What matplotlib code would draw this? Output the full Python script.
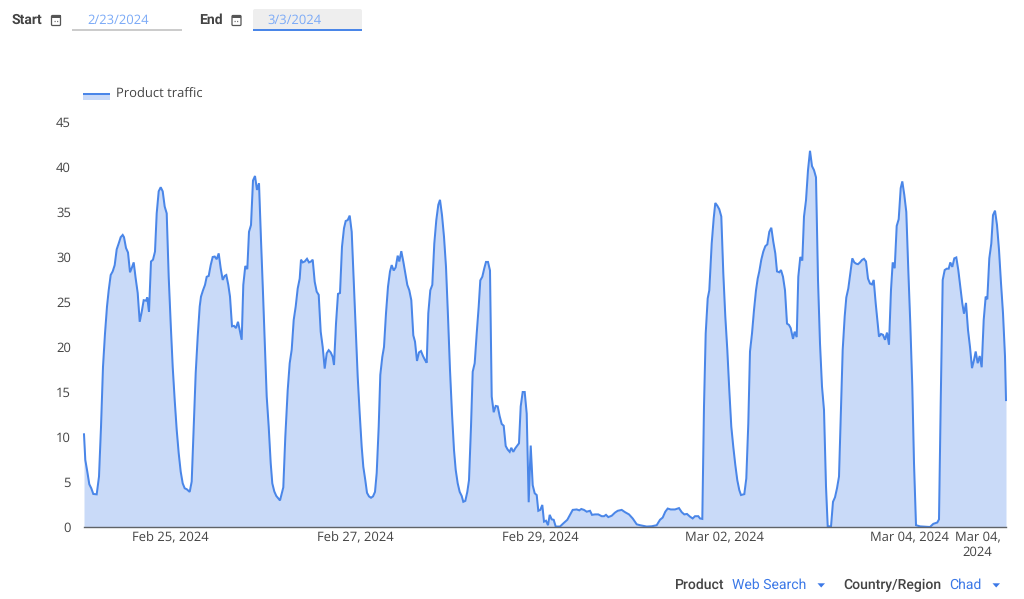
import datetime as dt
import matplotlib
matplotlib.use("Agg")
import matplotlib.pyplot as plt
import matplotlib.dates as mdates
from matplotlib.patches import FancyBboxPatch, Rectangle, Polygon

plt.rcParams["text.hinting"] = "no_hinting"
plt.rcParams["text.hinting_factor"] = 1

# readings as (time step after series start, traffic); 92.4 steps per day
wave_1 = [(0,10.3),(1.3,7.45),(3.3,6.15),(5.3,4.75),(7.3,4.3),(9.3,3.67),(12.7,3.63),(15,5.6),(17,11.1),(19,17.8),(21,21.5),(23,24.5),(24.7,26.3),(26.7,28),(28.7,28.4),(30.7,29.1),(32.7,30.85),(34.7,31.5),(36.7,32.2),(38.7,32.45),(40,32.2),(42,31),(44,30.5),(46,28.3),(48,28.85),(49.7,29.4),(51.7,27.6),(53.7,26),(55.7,22.8),(57.7,23.9),(59.7,25.2),(62,25.15),(63.3,25.5),(65,23.9),(67,29.5),(69,29.7),(71,30.6),(72.7,34.85),(74.7,37.3),(76.7,37.75),(78.7,37.3),(80.7,35.6),(82.7,34.85),(84.7,27.8),(86.7,22.6),(88.7,17.8),(90.7,14.1),(92.7,10.8),(94.7,8.2),(96.7,6.15),(98.7,4.85),(100.7,4.3),(102.7,4.2),(105.7,3.9),(107.7,5.05)]
wave_2 = [(109.7,11.15),(111.7,17.1),(113.7,21.15),(115.7,24.5),(117,25.6),(119,26.3),(121,26.9),(122.7,27.8),(124.7,27.9),(126.7,29.1),(128.7,30),(130.7,30.05),(132.7,29.75),(134.7,30.4),(136.7,28.75),(138.7,27.45),(140.7,27.9),(142.3,28),(144.3,26.9),(146,25.6),(148,22.3),(150,22.35),(152,22.1),(154,22.8),(156,21.7),(157.7,20.8),(159.3,26.9),(161.3,29),(163.3,28.65),(165,32.8),(167,33.55),(169,38.5),(171,39),(173,37.45),(175,38.2),(177,31.9),(179,26),(181,19.7),(182.7,14.5),(184.7,11.15),(186.7,7.1),(188.3,4.85),(190.3,3.95),(192.3,3.45),(196,2.95),(199.3,4.4)]
wave_3 = [(201.3,10),(203.7,15.2),(205.7,18.2),(207.7,19.7),(209.7,23),(211.7,24.5),(213.7,26.5),(215.7,27.6),(217,29.7),(218.7,29.4),(220.7,29.5),(223,29.8),(225,29.4),(227,29.5),(228.7,29.7),(230.7,27.25),(232.7,26.15),(234.7,25.8),(236.7,21.7),(238.7,20),(240.7,17.6),(242.7,19.3),(244.7,19.65),(246.7,19.4),(248.7,18.9),(250,18),(252,22.6),(254,25.9),(256,26),(258,31.15),(260,33.2),(261.7,34),(263.7,34.1),(265.7,34.6),(267.7,32.8),(269.7,27.45),(271.7,22.3),(273.7,16.7),(275.7,12.6),(277.7,8.9),(279.3,6.7),(281.3,5.2),(283,3.8),(285,3.4),(287,3.25),(289,3.4),(291,3.9)]
wave_4 = [(292.7,6),(294.7,11.15),(296.3,16.9),(298.3,18.9),(300,20),(302,23.75),(304,26.7),(306,28.4),(307.7,29.1),(309.7,28.5),(311.7,28.85),(313.7,30.15),(315.3,29.5),(317.3,30.65),(319.3,29.5),(321.3,28.2),(323.3,26.9),(325.3,26.3),(327.3,25.2),(329.3,21.3),(331,20.6),(333,18.45),(335,19.4),(337,19.55),(339,19),(341,18.55),(342.7,18.25),(344.3,23.75),(346.3,26.3),(348.3,26.9),(350.3,31.5),(352.3,34.1),(354.3,35.8),(356,36.35),(358,34.65),(360,32.25),(362,28.9),(364,23.4),(366,17.45),(368,12.6),(370,8.55),(371.7,6.35),(373.7,4.85),(375.7,3.9),(377.7,3.45),(379.3,2.8),(381.3,2.9),(383.3,3.9),(385,5.2)]
wave_5 = [(387,11.15),(388.7,17.25),(390.7,18.2),(392.7,21.5),(394.7,24.5),(396.3,27.4),(398.3,27.8),(400.3,28.75),(402,29.45),(404,29.45),(406,28.5),(407.7,14.5),(409.7,12.75),(411.7,13.45),(413.7,13.4),(415.7,12.3),(417.7,11.45),(419.7,11.25),(421.7,9),(423.7,8.6),(425.7,8.35),(427.3,8.8),(429.3,8.35),(431.3,8.75),(433.3,9.05),(435,9.3),(436.7,13.4),(438.7,15),(440.7,15),(442.7,12.6),(444.7,2.75),(446.7,9.05),(448.7,4.65),(450.7,3.75),(452.7,3.55),(454.3,1.8),(456.3,1.9),(458.3,2.45),(460,0.6),(462,0.7),(464,0.2),(465.7,1.35),(467.7,0.85),(469.7,0.8),(471.7,0.05)]
outage = [(476,0.05),(479.3,0.4),(483.3,0.8),(486,1.35),(488.7,1.9),(492.7,1.95),(495.3,1.85),(497.3,2),(500,1.9),(502.7,1.7),(506,1.8),(508,1.35),(511,1.4),(514.3,1.4),(517.7,1.2),(520,1.2),(522,1.35),(524.3,1.1),(527.7,1.25),(531,1.6),(533.7,1.8),(537.7,1.9),(541,1.65),(545,1.4),(548.7,0.95),(552.7,0.3),(556,0.2),(562.7,0.05),(567.7,0.08),(572.7,0.2),(576,0.8),(578.7,1.05),(581.3,1.7),(583.7,2.05),(586.7,1.95),(591,1.95),(595,2.1),(597.7,1.65),(600.3,1.4),(603,1.45),(606,1.15),(608.7,0.95),(611,1.2),(614.3,1.2),(616,0.95),(618.3,0.9)]
wave_6 = [(620,13.4),(621.7,21.5),(623.7,25.4),(625.3,26.3),(627.7,31.5),(629.7,34.3),(631.3,36),(633.3,35.7),(635.3,35.3),(637.3,34.5),(639.3,28.2),(641.3,23.4),(643.3,19.7),(645.3,15.2),(647.3,11.15),(649.3,8.9),(651.3,6.9),(653.3,5.2),(655.3,4.1),(657,3.55),(660.3,3.65),(662.3,5.4)]
wave_7 = [(664.3,11.5),(666,19.5),(668,21.5),(670,24.1),(672,26.3),(673.7,27.6),(675.3,28.4),(677.3,29.7),(679.3,30.6),(681.3,31.2),(683.3,31.4),(685.3,32.8),(687.3,33.25),(689.3,31.7),(691.3,30.4),(693,28.4),(695.3,28.3),(697,28.55),(699,27.8),(701,26.3),(703,22.6),(705,22.45),(706.7,22.1),(709,20.9),(710.7,21.7),(712.7,21.1),(714.3,27.8),(716.3,30),(718.3,29.6),(720,34.5),(722,36.3),(724,39.65),(726,41.8),(728,40.1),(730,39.65),(732,38.85),(734,27.45),(736,20.4),(738,15.6),(740,13),(742,4.5),(743.7,0.1),(747,0.05),(749,2.8),(751,3.3),(753,4.3),(755,5.6)]
wave_8 = [(756.7,12.25),(758.7,19.7),(760.7,23.4),(762.3,25.5),(764.3,26.5),(766.3,28.2),(768.3,29.85),(770.3,29.4),(772.3,29.25),(774,29.2),(776,29.4),(778,29.67),(780,29.8),(782,29.5),(784,27.6),(786,27.05),(788,26.95),(789.7,27.45),(791.7,24.85),(793.7,22.65),(795,21.15),(797,21.45),(799,21.35),(801,20.8),(803,21.6),(805,20.25),(807,26.35),(808.7,29.4),(810.7,28.75),(812.7,33.45),(814.7,34.2),(816.7,37.65),(818.3,38.4),(820.3,36.9),(822.3,35),(824.3,28.55),(826.3,22.6),(828.3,15.6),(830,7.1),(832,0.2),(836,0.07),(846,0),(849.3,0.35),(853.3,0.5),(855,0.85)]
wave_9 = [(856.7,13.75),(858.7,27.45),(860.7,28.55),(862.7,28.7),(864.7,28.7),(866.3,29.4),(868.3,28.9),(870.3,29.85),(872.3,29.95),(874.3,28.55),(876.3,26.7),(878.3,24.85),(880,23.7),(882,24.9),(884,21.9),(886,20),(888,17.65),(890,18.55),(891.7,19.5),(893.7,18.2),(895.7,19),(897.7,17.75),(899.7,23),(901.7,25.6),(903.3,25.3),(905.3,29.85),(907.3,31.5),(909,34.65),(911,35.15),(913,33.55),(915,30.8),(917,27.1),(919,23.75),(921,18.95),(922,14.1)]

y_ticks = [0, 5, 10, 15, 20, 25, 30, 35, 40, 45]
tick_dates = [dt.datetime(2024, 2, 25), dt.datetime(2024, 2, 27), dt.datetime(2024, 2, 29),
              dt.datetime(2024, 3, 2), dt.datetime(2024, 3, 4), dt.datetime(2024, 3, 4, 17, 40)]
tick_labels = ["Feb 25, 2024", "Feb 27, 2024", "Feb 29, 2024", "Mar 02, 2024",
               "Mar 04, 2024", "Mar 04,\n2024"]
series_name = "Product traffic"
start_label, start_value = "Start", "2/23/2024"
end_label, end_value = "End", "3/3/2024"
product_label, product_value = "Product", "Web Search"
region_label, region_value = "Country/Region", "Chad"

W, H = 1024, 599
LINE, FILL = "#4a86e8", "#c9daf8"
TEXT, BLUE, LIGHT = "#444444", "#3b78e7", "#7baaf7"
FONT = "Open Sans"
UI = "Roboto"

readings = wave_1 + wave_2 + wave_3 + wave_4 + wave_5 + outage + wave_6 + wave_7 + wave_8 + wave_9
time_steps = [r[0] for r in readings]
traffic = [r[1] for r in readings]

fig = plt.figure(figsize=(W / 100, H / 100), dpi=100, facecolor="white")
ax = fig.add_axes([84 / W, 1 - 527 / H, 922 / W, 405 / H])

series_start = mdates.date2num(dt.datetime(2024, 2, 25)) - 86.5 / 92.4
x = [series_start + s / 92.4 for s in time_steps]
ax.fill_between(x, traffic, 0, color=FILL, lw=0, zorder=1)
ax.plot(x, traffic, color=LINE, lw=1.45, solid_joinstyle="miter", clip_on=False, zorder=2)
ax.set_xlim(series_start, series_start + 922 / 92.4)
ax.set_ylim(0, 45)
ax.set_yticks(y_ticks)
ax.set_xticks([mdates.date2num(d) for d in tick_dates])
ax.set_xticklabels(tick_labels, fontfamily=FONT, fontsize=9, color=TEXT, linespacing=1.2)
ax.tick_params(axis="x", length=0, pad=3)
ax.tick_params(axis="y", length=0, pad=9.5)
for lab in ax.get_yticklabels():
    lab.set_fontfamily(FONT); lab.set_fontsize(9); lab.set_color(TEXT)
for side in ("top", "right", "left"):
    ax.spines[side].set_visible(False)
ax.spines["bottom"].set_color("#5f6368")
ax.spines["bottom"].set_linewidth(1.0)
ax.spines["bottom"].set_zorder(3)
ax.patch.set_alpha(0)

# page controls drawn on a pixel overlay
ui = fig.add_axes([0, 0, 1, 1], facecolor="none", zorder=5)
ui.set_xlim(0, W); ui.set_ylim(H, 0); ui.axis("off")


def calendar(cx, cy):
    ui.add_patch(FancyBboxPatch((cx - 4.5, cy - 4.5), 9, 10, boxstyle="round,pad=0,rounding_size=1",
                                fc="none", ec="#555555", lw=0.9))
    ui.add_patch(Rectangle((cx - 4.5, cy - 5), 9, 3, fc="#555555", ec="none"))
    ui.plot([cx - 2.5, cx + 2.5], [cy + 0.5, cy + 0.5], color="#777777", lw=0.9, ls=(0, (1, 1)))


ui.text(12, 20, start_label, family=UI, weight="bold", fontsize=10.2, color="#444444", va="center")
calendar(56, 20)
ui.text(87, 20.5, start_value, family=FONT, fontsize=9.3, color=LIGHT, va="center")
ui.add_patch(Rectangle((72, 29.2), 110, 1.4, fc="#cccccc", ec="none"))

ui.text(199.5, 20, end_label, family=UI, weight="bold", fontsize=10.2, color="#444444", va="center")
calendar(236.5, 20)
ui.add_patch(FancyBboxPatch((253, 9), 109, 21, boxstyle="round,pad=0,rounding_size=2",
                            fc="#eeeeee", ec="none"))
ui.text(267, 20.5, end_value, family=FONT, fontsize=9.3, color=LIGHT, va="center")
ui.add_patch(Rectangle((253, 29), 109, 1.6, fc=LINE, ec="none"))

ui.add_patch(Rectangle((83, 94), 27, 6, fc=FILL, ec="none"))
ui.plot([83, 110], [94, 94], color=LINE, lw=1.45, solid_capstyle="butt")
ui.text(115.5, 94, series_name, family=FONT, fontsize=9.3, color=TEXT, va="center")

ui.text(675, 585.5, product_label, family=UI, weight="medium", fontsize=10.2, color="#444444", va="center")
ui.text(732.5, 585.5, product_value, family=UI, fontsize=10.2, color=BLUE, va="center")
ui.add_patch(Polygon([(817.5, 583.3), (825, 583.3), (821.2, 587.5)], fc=BLUE, ec="none"))
ui.text(843.5, 585.5, region_label, family=UI, weight="medium", fontsize=10.2, color="#444444", va="center")
ui.text(949, 585.5, region_value, family=UI, fontsize=10.2, color=BLUE, va="center")
ui.add_patch(Polygon([(992.5, 583.3), (1000, 583.3), (996.2, 587.5)], fc=BLUE, ec="none"))

fig.savefig("out.png", dpi=100)
